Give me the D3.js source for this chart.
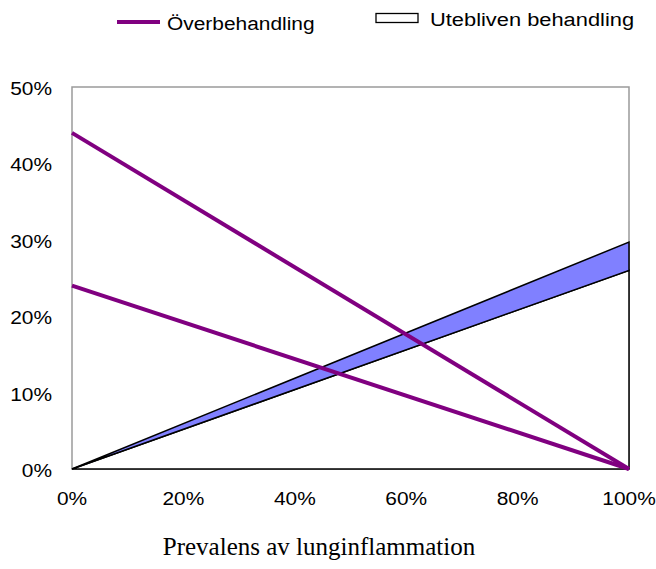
<!DOCTYPE html>
<html><head><meta charset="utf-8">
<script src="https://cdn.jsdelivr.net/npm/d3@7"></script>
<style>body{margin:0;background:#fff}</style>
</head><body>
<svg id="c" width="656" height="569"></svg>
<script>
const prevalence = [0, 1];
const overTreatHigh = [0.44, 0];
const overTreatLow = [0.24, 0];
const missedTreat = [0, 0.26];
const missedExtra = [0, 0.037];
const yTicks = [0, 0.1, 0.2, 0.3, 0.4, 0.5];
const xTicks = [0, 0.2, 0.4, 0.6, 0.8, 1.0];
const legendLabels = ["Överbehandling", "Utebliven behandling"];
const xTitle = "Prevalens av lunginflammation";

const svg = d3.select("#c");
const x = d3.scaleLinear().domain([0, 1]).range([72, 629]);
const y = d3.scaleLinear().domain([0, 0.5]).range([469, 87]);
const fmt = d3.format(".0%");
const SANS = "Liberation Sans, Arial, sans-serif";

function sansText(px, py, str, anchor, sx) {
  return svg.append("text").attr("transform", `translate(${px},${py}) scale(${sx},1)`)
    .attr("text-anchor", anchor).attr("font-family", SANS).attr("font-size", 19).attr("fill", "#000").text(str);
}

// frame
svg.append("rect").attr("x", x(0)).attr("y", y(0.5)).attr("width", x(1) - x(0)).attr("height", y(0) - y(0.5))
  .attr("fill", "none").attr("stroke", "#9a9a9a").attr("stroke-width", 1.5);

// stacked areas
const pts = prevalence.map((p, i) => ({p, a: missedTreat[i], b: missedTreat[i] + missedExtra[i]}));
const areaLow = d3.area().x(d => x(d.p)).y0(y(0)).y1(d => y(d.a));
const areaHigh = d3.area().x(d => x(d.p)).y0(d => y(d.a)).y1(d => y(d.b));
svg.append("path").datum(pts).attr("d", areaLow).attr("fill", "#fff").attr("stroke", "#000").attr("stroke-width", 1.5);
svg.append("path").datum(pts).attr("d", areaHigh).attr("fill", "#8080ff").attr("stroke", "#000").attr("stroke-width", 1.5);

// purple lines
const line = d3.line().x(d => x(d[0])).y(d => y(d[1]));
[overTreatHigh, overTreatLow].forEach(s => {
  svg.append("path").datum(prevalence.map((p, i) => [p, s[i]])).attr("d", line)
    .attr("fill", "none").attr("stroke", "#800080").attr("stroke-width", 4);
});

// axis labels
yTicks.forEach(t => sansText(52, y(t) + 8, fmt(t), "end", 1.1));
xTicks.forEach(t => sansText(x(t), 505, fmt(t), "middle", 1.1));

svg.append("text").attr("x", 319).attr("y", 555).attr("text-anchor", "middle")
  .attr("font-family", "Liberation Serif, Times New Roman, serif").attr("font-size", 25).text(xTitle);

// legend
svg.append("line").attr("x1", 117).attr("x2", 160).attr("y1", 22).attr("y2", 22).attr("stroke", "#800080").attr("stroke-width", 4);
sansText(167, 30, legendLabels[0], "start", 1.1);
svg.append("rect").attr("x", 376).attr("y", 13.5).attr("width", 42).attr("height", 9).attr("fill", "#fff").attr("stroke", "#000").attr("stroke-width", 1.3);
sansText(430, 26, legendLabels[1], "start", 1.15);
</script>
</body></html>
